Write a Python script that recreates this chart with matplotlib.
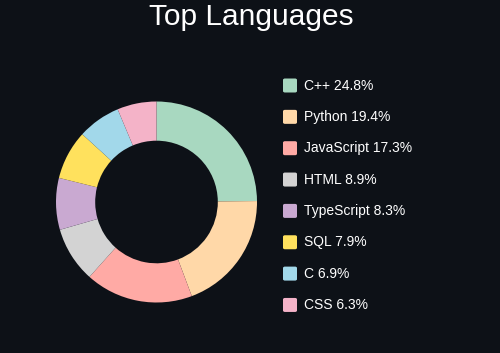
import matplotlib.pyplot as plt
from matplotlib.patches import FancyBboxPatch

languages = ['C++', 'Python', 'JavaScript', 'HTML', 'TypeScript', 'SQL', 'C', 'CSS']
percents = [24.8, 19.4, 17.3, 8.9, 8.3, 7.9, 6.9, 6.3]
colors = ['#a8d8c0', '#ffd8a8', '#ffaaa5', '#d3d3d3', '#c9a9d1', '#ffe15d', '#a2d8ea', '#f4b3c8']

BG = '#0d1117'
W, H = 500, 353

plt.rcParams['font.family'] = ['Liberation Sans', 'DejaVu Sans']

fig = plt.figure(figsize=(W / 100, H / 100), dpi=100, facecolor=BG)

# donut
ax = fig.add_axes([56 / W, (H - 302.5) / H, 201 / W, 201 / H])
ax.set_facecolor(BG)
ax.pie(percents, colors=colors, startangle=90, counterclock=False, radius=1,
       wedgeprops=dict(width=0.39, edgecolor='none'))
ax.set_xlim(-1, 1)
ax.set_ylim(-1, 1)
ax.set_aspect('equal')
ax.axis('off')

fig.text(0.502, (H - 17) / H, 'Top Languages', color='white', fontsize=21.5,
         ha='center', va='center')

# legend
y0 = 85.5
step = 31.35
for i, (lang, pct, c) in enumerate(zip(languages, percents, colors)):
    y = y0 + i * step
    box = FancyBboxPatch((283 / W, (H - y - 7) / H), 14 / W, 14 / H,
                         boxstyle='round,pad=0,rounding_size=0.004',
                         transform=fig.transFigure, facecolor=c, edgecolor='none')
    fig.add_artist(box)
    fig.text(303.5 / W, (H - y) / H, f'{lang} {pct}%', color='white',
             fontsize=10, ha='left', va='center')

fig.savefig('out.png', dpi=100, facecolor=BG)
